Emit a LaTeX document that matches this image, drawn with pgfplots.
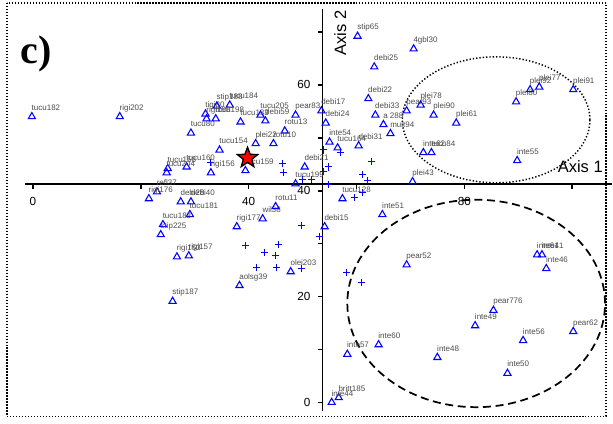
\documentclass[border=0pt]{standalone}
\usepackage{pgfplots}
\pgfplotsset{compat=1.18}
\usepackage{fontspec}
\setmainfont{Liberation Sans}
\newfontfamily\serifb{Liberation Serif}
\definecolor{lblgray}{RGB}{75,75,75}
\definecolor{mblue}{RGB}{0,0,255}
\pgfdeclareplotmark{fstar}{%
  \pgfpathmoveto{\pgfpointpolar{90}{\pgfplotmarksize}}%
  \pgfpathlineto{\pgfpointpolar{126}{0.42\pgfplotmarksize}}%
  \pgfpathlineto{\pgfpointpolar{162}{\pgfplotmarksize}}%
  \pgfpathlineto{\pgfpointpolar{198}{0.42\pgfplotmarksize}}%
  \pgfpathlineto{\pgfpointpolar{234}{\pgfplotmarksize}}%
  \pgfpathlineto{\pgfpointpolar{270}{0.42\pgfplotmarksize}}%
  \pgfpathlineto{\pgfpointpolar{306}{\pgfplotmarksize}}%
  \pgfpathlineto{\pgfpointpolar{342}{0.42\pgfplotmarksize}}%
  \pgfpathlineto{\pgfpointpolar{18}{\pgfplotmarksize}}%
  \pgfpathlineto{\pgfpointpolar{54}{0.42\pgfplotmarksize}}%
  \pgfpathclose
  \pgfusepathqfillstroke
}
\pgfplotstableread{
x y label
-0.2 54.0 tucu182
16.1 54.0 rigi202
29.3 50.9 tucu80
32.0 54.5 tigi80
34.1 56.0 stip188
36.5 56.2 tucu184
32.2 53.6 rigi198
33.9 53.6 tucu198
38.5 53.0 tucu133
42.2 54.3 tucu205
43.1 53.2 debi59
48.7 54.3 pear83
46.7 51.3 rotu13
41.3 48.9 plei22
44.6 48.9 rotu10
34.6 47.7 tucu154
39.4 43.8 tucu159
33.0 43.4 rigi156
28.5 44.5 tucu160
25.0 44.2 tucu158
24.8 43.4 tucu204
50.4 44.5 debi21
48.7 41.3 tucu199
23.0 39.8 refl37
21.5 38.5 rigi176
27.4 37.9 debi28
29.3 37.9 debi40
29.1 35.5 tucu181
24.1 33.6 tucu183
23.7 31.7 stip225
26.7 27.5 rigi153
28.9 27.7 rigi157
37.8 33.2 rigi177
42.6 34.7 wil38
45.0 37.0 rotu11
54.1 33.2 debi15
47.8 24.7 olei203
38.3 22.1 aolsg39
25.9 19.1 stip187
57.4 38.5 tucu128
60.2 69.2 stip65
63.3 63.4 debi25
62.2 57.4 debi22
53.5 55.1 debi17
54.3 52.8 debi24
63.5 54.3 debi33
65.0 52.5 {a 288}
66.3 50.8 mult94
55.0 49.2 inte54
56.5 48.1 tucu164
60.4 48.5 debi31
69.3 55.1 pear93
71.9 56.2 plei78
74.3 54.3 plei90
78.5 52.8 plei61
70.6 66.8 4gbl30
89.6 56.8 plei80
92.2 59.1 plei92
93.9 59.6 plei77
100.2 59.1 plei91
72.4 47.2 inte62
73.9 47.2 tucu84
89.8 45.7 inte55
70.4 41.7 plei43
64.8 35.5 inte51
69.3 26.0 pear52
93.5 27.9 inte61
94.4 27.9 inte41
95.2 25.3 inte46
85.4 17.4 pear776
82.0 14.5 inte49
90.9 11.7 inte56
100.2 13.4 pear62
75.0 8.5 inte48
88.0 5.5 inte50
58.3 9.1 inte57
64.1 10.9 inte60
56.7 0.9 britt185
55.4 0.0 inte44
}\tritable
\pgfplotstableread{
x y
33.0 45.3
46.3 45.1
46.5 43.4
50.0 42.1
51.7 42.1
53.9 47.7
57.0 47.2
62.8 45.5
61.1 43.0
62.0 41.9
54.8 44.5
53.9 43.6
54.8 41.1
59.6 38.7
61.1 39.6
49.8 33.4
53.1 31.3
39.4 29.6
45.6 29.8
43.0 28.3
45.0 27.7
41.5 25.5
45.2 25.5
49.8 25.3
58.1 24.5
60.9 22.6
}\plustable
\begin{document}
\begin{tikzpicture}
\begin{axis}[
  scale only axis, width=459.75pt, height=318pt,
  xmin=-6.11, xmax=107.4, ymin=-3.96, ymax=76.04,
  axis lines=none, clip=false,
]
\path (rel axis cs:0,0) rectangle (rel axis cs:1,1);
% dotted frame
\draw[line width=1pt, dash pattern=on 1pt off 1.25pt] (axis cs:-4.81,75.47) rectangle (axis cs:106.3,-2.64);
% crossing axes
\draw[line width=1.4pt] (axis cs:-1.5,41.3) -- (axis cs:107.4,41.3);
\draw[line width=1.4pt] (axis cs:53.7,74.3) -- (axis cs:53.7,-1.7);
\pgfplotsinvokeforeach{0,20,40,60,80,100}{\draw[line width=1.2pt] (axis cs:#1,41.3) -- ++(0pt,-3.5pt);}
\pgfplotsinvokeforeach{0,10,20,30,40,50,60,70}{\draw[line width=1.2pt] (axis cs:53.7,#1) -- ++(-3.5pt,0pt);}
\pgfplotsinvokeforeach{0,40,80}{\node[font=\fontsize{8.8}{10}\selectfont] at ([yshift=-13.5pt]axis cs:#1,41.3) {#1};}
\pgfplotsinvokeforeach{0,20,40,60}{\node[anchor=east,font=\fontsize{8.8}{10}\selectfont] at ([xshift=-5.5pt]axis cs:53.7,#1) {#1};}
\node[rotate=90,font=\fontsize{12.4}{14}\selectfont] at (axis cs:57.0,69.8) {Axis 2};
\node[font=\fontsize{12.4}{14}\selectfont] at (axis cs:101.5,44.5) {Axis 1};
\node[font=\serifb\bfseries\fontsize{30}{30}\selectfont] at (axis cs:0.6,65.8) {c)};
% ellipses
\draw[line width=1.1pt, dash pattern=on 1pt off 1.5pt] (axis cs:85.9,53.4) ellipse [x radius=17.4, y radius=11.9];
\draw[line width=1.3pt, dash pattern=on 6pt off 3.5pt] (axis cs:82.2,18.7) ellipse [x radius=23.9, y radius=19.6];
% points
\addplot[only marks, mark=+, mark size=2.7pt, draw=mblue, mark options={draw=mblue, line width=0.75pt}] table[x=x,y=y] {\plustable};
\addplot[only marks, mark=triangle, mark size=3.1pt, draw=mblue, mark options={draw=mblue, line width=0.8pt},
  point meta=explicit symbolic, nodes near coords,
  nodes near coords style={anchor=base west, inner sep=0pt, xshift=-0.5pt, yshift=4.8pt,
    font=\fontsize{6}{6}\selectfont, text=lblgray}]
  table[x=x,y=y,meta=label] {\tritable};
\addplot[only marks, mark=fstar, mark size=8pt, mark options={fill=red, draw=black, line width=1pt}] coordinates {(39.8,46.2)};
\end{axis}
\end{tikzpicture}
\end{document}
